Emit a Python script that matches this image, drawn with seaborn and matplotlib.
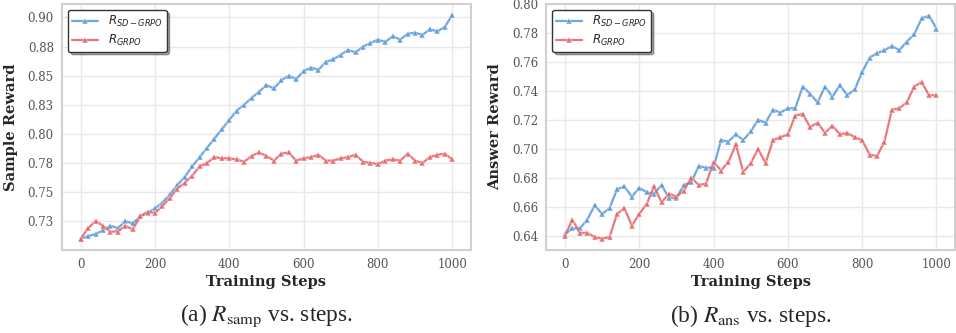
import numpy as np
import pandas as pd
import matplotlib
matplotlib.use("Agg")
import matplotlib.pyplot as plt
import seaborn as sns

# --- Data ---
steps = list(range(0, 1001, 20))

samp_sd_grpo = [
    0.710, 0.712, 0.714, 0.717, 0.721, 0.719, 0.725, 0.723, 0.729, 0.732,
    0.736, 0.741, 0.748, 0.756, 0.763, 0.772, 0.780, 0.788, 0.796, 0.804,
    0.812, 0.820, 0.825, 0.831, 0.836, 0.842, 0.839, 0.846, 0.850, 0.847,
    0.854, 0.857, 0.855, 0.862, 0.864, 0.868, 0.872, 0.870, 0.875, 0.878,
    0.881, 0.879, 0.884, 0.881, 0.886, 0.887, 0.885, 0.890, 0.888, 0.892,
    0.902,
]
samp_grpo = [
    0.710, 0.719, 0.725, 0.721, 0.716, 0.716, 0.721, 0.718, 0.729, 0.733,
    0.732, 0.738, 0.745, 0.753, 0.758, 0.764, 0.772, 0.775, 0.780, 0.779,
    0.779, 0.778, 0.776, 0.781, 0.784, 0.781, 0.777, 0.783, 0.784, 0.777,
    0.779, 0.780, 0.782, 0.777, 0.777, 0.779, 0.780, 0.782, 0.776, 0.775,
    0.774, 0.777, 0.778, 0.777, 0.783, 0.777, 0.775, 0.780, 0.782, 0.783,
    0.778,
]

ans_sd_grpo = [
    0.641, 0.645, 0.645, 0.651, 0.661, 0.655, 0.659, 0.672, 0.674, 0.667,
    0.673, 0.670, 0.669, 0.675, 0.666, 0.666, 0.675, 0.677, 0.688, 0.687,
    0.687, 0.706, 0.705, 0.710, 0.706, 0.712, 0.720, 0.718, 0.727, 0.725,
    0.728, 0.728, 0.743, 0.738, 0.732, 0.743, 0.736, 0.744, 0.737, 0.741,
    0.753, 0.763, 0.766, 0.768, 0.771, 0.768, 0.774, 0.779, 0.790, 0.792,
    0.783,
]
ans_grpo = [
    0.640, 0.651, 0.642, 0.642, 0.639, 0.638, 0.639, 0.655, 0.659, 0.647,
    0.655, 0.662, 0.674, 0.663, 0.669, 0.667, 0.671, 0.680, 0.675, 0.676,
    0.691, 0.685, 0.691, 0.703, 0.684, 0.690, 0.700, 0.690, 0.706, 0.708,
    0.710, 0.723, 0.724, 0.715, 0.718, 0.711, 0.716, 0.710, 0.711, 0.708,
    0.706, 0.696, 0.695, 0.705, 0.727, 0.728, 0.732, 0.743, 0.746, 0.737,
    0.737,
]

samp_ticks = [0.725, 0.75, 0.775, 0.80, 0.825, 0.85, 0.875, 0.90]
samp_ticklabels = ["0.73", "0.75", "0.78", "0.80", "0.83", "0.85", "0.88", "0.90"]
ans_ticks = [0.64, 0.66, 0.68, 0.70, 0.72, 0.74, 0.76, 0.78, 0.80]

series_names = [r"$R_{SD-GRPO}$", r"$R_{GRPO}$"]
colors = ["#5b9bdb", "#e6666a"]

# --- Style ---
sns.set_theme(style="whitegrid")
plt.rcParams["font.family"] = ["DejaVu Serif"]
plt.rcParams["mathtext.fontset"] = "dejavusans"
plt.rcParams["grid.color"] = "#e8e8e8"
plt.rcParams["axes.edgecolor"] = "#d0d0d0"

fig, axes = plt.subplots(1, 2, figsize=(9.56, 3.33), dpi=100)

panels = [
    (axes[0], samp_sd_grpo, samp_grpo, "Sample Reward", samp_ticks, samp_ticklabels,
     r"(a) $R_{\mathrm{samp}}$ vs. steps."),
    (axes[1], ans_sd_grpo, ans_grpo, "Answer Reward", ans_ticks,
     [f"{t:.2f}" for t in ans_ticks], r"(b) $R_{\mathrm{ans}}$ vs. steps."),
]

for ax, sd_vals, grpo_vals, ylabel, yt, ytl, caption in panels:
    df = pd.DataFrame({
        "step": steps * 2,
        "reward": sd_vals + grpo_vals,
        "method": [series_names[0]] * len(steps) + [series_names[1]] * len(steps),
    })
    sns.lineplot(
        data=df, x="step", y="reward", hue="method", palette=colors,
        marker="^", markersize=4.2, markeredgewidth=0.3, markeredgecolor="white",
        linewidth=1.6, alpha=0.88, ax=ax,
    )
    ax.set_xticks([0, 200, 400, 600, 800, 1000])
    ax.set_yticks(yt)
    ax.set_yticklabels(ytl)
    ax.tick_params(axis="both", labelsize=8.5, labelcolor="#555555", length=0, pad=6)
    ax.set_xlabel("Training Steps", fontsize=10.5, fontweight="bold", labelpad=3)
    ax.set_ylabel(ylabel, fontsize=10.5, fontweight="bold", labelpad=7)
    for sp in ax.spines.values():
        sp.set_linewidth(1.5)
    leg = ax.legend(loc="upper left", fontsize=8.5, frameon=True, shadow=True,
                    fancybox=True, edgecolor="#333333", framealpha=1,
                    handlelength=2.2, borderpad=0.35, labelspacing=0.3)
    leg.get_frame().set_linewidth(1.0)
    ax.text(0.5, -0.215, caption, transform=ax.transAxes, ha="center", va="top",
            fontsize=16.8, family=["Liberation Serif"], math_fontfamily="stix")

plt.subplots_adjust(left=0.065, right=0.999, top=0.988, bottom=0.25, wspace=0.185)
plt.savefig("out.png", dpi=100)
